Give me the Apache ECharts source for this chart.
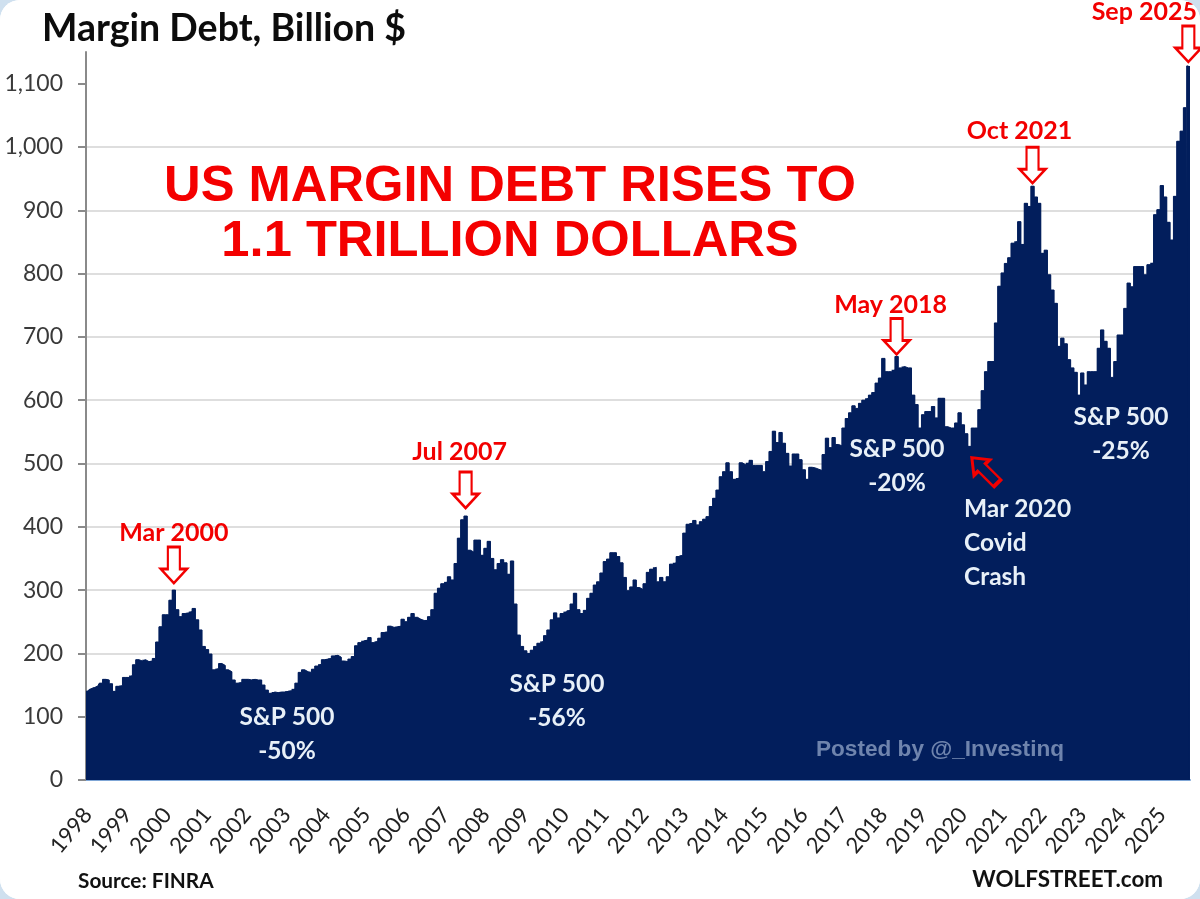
<!DOCTYPE html>
<html>
<head>
<meta charset="utf-8">
<title>Margin Debt</title>
<script src="https://cdn.jsdelivr.net/npm/echarts@6/dist/echarts.min.js"></script>
<style>
    html, body { margin: 0; padding: 0; background: #cfe0ef; }
    #chart { width: 1200px; height: 899px; background: #fff; border-radius: 20px; overflow: hidden; }
</style>
</head>
<body>
<div id="chart"></div>
<script>
const years = [1998, 1999, 2000, 2001, 2002, 2003, 2004, 2005, 2006, 2007, 2008, 2009, 2010, 2011,
    2012, 2013, 2014, 2015, 2016, 2017, 2018, 2019, 2020, 2021, 2022, 2023, 2024, 2025]
const months = ['Jan', 'Feb', 'Mar', 'Apr', 'May', 'Jun', 'Jul', 'Aug', 'Sep', 'Oct', 'Nov', 'Dec']
const yTicks = [0, 100, 200, 300, 400, 500, 600, 700, 800, 900, 1000, 1100]

// monthly, Jan 1998 - Sep 2025
const marginDebt = [
    141, 144, 146, 148, 153, 159, 158, 152, 140, 148, 149, 162, // 1998
    162, 165, 182, 190, 188, 190, 187, 188, 192, 218, 242, 261, // 1999
    261, 284, 300, 269, 258, 263, 264, 266, 271, 253, 237, 211, // 2000
    206, 199, 174, 176, 184, 181, 174, 171, 158, 153, 154, 159, // 2001
    159, 158, 159, 158, 158, 150, 142, 137, 139, 138, 139, 139, // 2002
    140, 141, 144, 153, 170, 174, 171, 170, 175, 180, 183, 190, // 2003
    191, 192, 196, 197, 194, 188, 187, 191, 195, 212, 217, 220, // 2004
    221, 225, 217, 219, 224, 233, 234, 243, 241, 242, 243, 254, // 2005
    250, 257, 263, 257, 254, 252, 252, 258, 269, 295, 303, 310, // 2006
    313, 321, 316, 342, 382, 411, 417, 363, 360, 379, 379, 355, // 2007
    366, 377, 350, 332, 342, 348, 343, 325, 346, 278, 229, 211, // 2008
    204, 200, 205, 211, 216, 219, 228, 237, 253, 264, 256, 263, // 2009
    266, 268, 278, 295, 269, 263, 268, 287, 295, 308, 313, 327, // 2010
    345, 349, 359, 359, 353, 343, 320, 299, 305, 316, 304, 301, // 2011
    310, 328, 333, 336, 313, 320, 313, 321, 341, 343, 353, 355, // 2012
    390, 404, 406, 410, 403, 408, 412, 416, 432, 445, 458, 479, // 2013
    487, 501, 487, 475, 477, 501, 498, 501, 505, 497, 497, 497, // 2014
    487, 503, 519, 551, 533, 549, 532, 516, 496, 515, 515, 506, // 2015
    490, 475, 494, 493, 491, 489, 514, 540, 525, 541, 530, 528, // 2016
    556, 571, 580, 591, 587, 595, 600, 603, 608, 612, 627, 635, // 2017
    666, 645, 645, 648, 669, 651, 653, 651, 651, 608, 593, 556, // 2018
    577, 582, 582, 590, 572, 603, 603, 558, 556, 556, 564, 580, // 2019
    561, 547, 527, 556, 556, 585, 615, 645, 661, 661, 722, 780, // 2020
    801, 816, 825, 848, 851, 882, 846, 911, 906, 938, 921, 911, // 2021
    832, 837, 798, 774, 753, 685, 698, 689, 664, 651, 644, 608, // 2022
    643, 624, 645, 645, 645, 682, 711, 693, 682, 636, 661, 703, // 2023
    703, 745, 785, 779, 811, 811, 811, 798, 814, 817, 893, 901, // 2024
    939, 921, 881, 853, 922, 1009, 1025, 1062, 1128             // 2025
]

// "Mar 2000", "Apr 2000" ... one per value above
let categories = []
years.forEach(y => months.forEach(m => categories.push(m + ' ' + y)))
categories = categories.slice(0, marginDebt.length)

const NAVY = '#021e5c'
const RED = '#f20000'
const CALIBRI = 'Lato, "Open Sans", sans-serif'
const ARIAL = '"Liberation Sans", Arial, sans-serif'
const DOWN_ARROW = 'path://M7,0 L19,0 L19,22 L26,22 L13,36 L0,22 L7,22 Z'

// a hollow arrow over a peak, with the month on top of it
function peak(month, lift, labelDx, labelDy) {
    return {
        name: month,
        coord: [month, marginDebt[categories.indexOf(month)]],
        symbol: DOWN_ARROW,
        symbolSize: [26, 36],
        symbolOffset: [0, -lift],
        itemStyle: {color: '#fff', borderColor: RED, borderWidth: 2.5},
        label: {
            show: true,
            position: 'top',
            distance: 1,
            offset: [labelDx, labelDy],
            formatter: '{b}',
            color: RED,
            fontFamily: CALIBRI,
            fontWeight: 'bold',
            fontSize: 25
        }
    }
}

function whiteText(text, x, y) {
    return {
        type: 'text',
        x: x,
        y: y,
        z: 20,
        style: {
            text: text,
            fill: '#e8f0f8',
            font: 'bold 24.5px ' + CALIBRI,
            lineHeight: 34,
            align: 'center',
            verticalAlign: 'middle'
        }
    }
}

let chart = echarts.init(document.getElementById('chart'), null, {renderer: 'canvas'})

let option = {
    animation: false,
    backgroundColor: '#fff',
    title: {
        text: 'Margin Debt, Billion $',
        left: 37,
        top: 5,
        textStyle: {fontFamily: CALIBRI, fontWeight: 'bold', fontSize: 37.5, color: '#0c0c0c'}
    },
    grid: {left: 86, right: 10, top: 52, bottom: 119},
    xAxis: {
        type: 'category',
        data: categories,
        axisLine: {lineStyle: {color: '#7fa6d6', width: 2}},
        axisTick: {show: false},
        axisLabel: {
            interval: (i) => i % 12 === 0,
            rotate: 50,
            margin: 31,
            color: '#222',
            fontFamily: CALIBRI,
            fontSize: 22,
            formatter: (v) => v.slice(-4)
        }
    },
    yAxis: {
        type: 'value',
        min: 0,
        max: 1150,
        interval: 100,
        axisLine: {show: true, lineStyle: {color: '#8a8a8a', width: 2}},
        axisTick: {show: true, length: 8, customValues: yTicks, lineStyle: {color: '#8a8a8a', width: 2}},
        axisLabel: {
            customValues: yTicks,
            margin: 23,
            color: '#3a3a3a',
            fontFamily: CALIBRI,
            fontSize: 23,
            formatter: (v) => v.toLocaleString('en-US')
        },
        splitLine: {showMaxLine: false, lineStyle: {color: '#dedede', width: 2}}
    },
    series: [
        {
            type: 'bar',
            data: marginDebt,
            barCategoryGap: 0,
            barWidth: '100%',
            itemStyle: {color: NAVY},
            silent: true
        },
        {
            // same values as a stepped area, covers the white seams between the 333 bars
            type: 'line',
            data: marginDebt,
            step: 'middle',
            showSymbol: false,
            lineStyle: {color: NAVY, width: 1},
            itemStyle: {color: NAVY},
            areaStyle: {color: NAVY, opacity: 1},
            silent: true,
            markPoint: {
                silent: true,
                data: [
                    peak('Mar 2000', 25, 0, 1),
                    peak('Jul 2007', 26, -6, -5),
                    peak('May 2018', 20, -6, 1),
                    peak('Oct 2021', 21, -13, -1),
                    peak('Sep 2025', 22, -44, 1),
                    {
                        name: 'Mar 2020',
                        coord: ['Mar 2020', marginDebt[categories.indexOf('Mar 2020')]],
                        symbol: DOWN_ARROW,
                        symbolSize: [22, 36],
                        symbolRotate: -135,
                        symbolOffset: [15, 24],
                        itemStyle: {color: NAVY, borderColor: RED, borderWidth: 3},
                        label: {show: false}
                    }
                ]
            }
        }
    ],
    graphic: [
        {
            type: 'text', x: 510, y: 215, z: 20,
            style: {
                text: 'US MARGIN DEBT RISES TO\n1.1 TRILLION DOLLARS',
                fill: '#f40000',
                font: 'bold 50.7px ' + ARIAL,
                lineHeight: 55,
                align: 'center',
                verticalAlign: 'middle'
            }
        },
        whiteText('S&P 500\n-50%', 287, 734),
        whiteText('S&P 500\n-56%', 557, 701),
        whiteText('S&P 500\n-20%', 897, 466),
        whiteText('S&P 500\n-25%', 1121, 434),
        {
            type: 'text', x: 964, y: 543, z: 20,
            style: {
                text: 'Mar 2020\nCovid\nCrash',
                fill: '#e8f0f8',
                font: 'bold 24.5px ' + CALIBRI,
                lineHeight: 34,
                align: 'left',
                verticalAlign: 'middle'
            }
        },
        {
            type: 'text', x: 816, y: 750, z: 20,
            style: {
                text: 'Posted by @_Investinq',
                fill: '#6f84ad',
                font: 'bold 22.6px ' + ARIAL,
                verticalAlign: 'middle'
            }
        },
        {
            type: 'text', x: 78, y: 881, z: 20,
            style: {
                text: 'Source: FINRA',
                fill: '#111',
                font: 'bold 20.8px ' + CALIBRI,
                verticalAlign: 'middle'
            }
        },
        {
            type: 'text', x: 1163, y: 880, z: 20,
            style: {
                text: 'WOLFSTREET.com',
                fill: '#111',
                font: 'bold 22.4px ' + CALIBRI,
                align: 'right',
                verticalAlign: 'middle'
            }
        }
    ]
}
chart.setOption(option)
</script>
</body>
</html>
